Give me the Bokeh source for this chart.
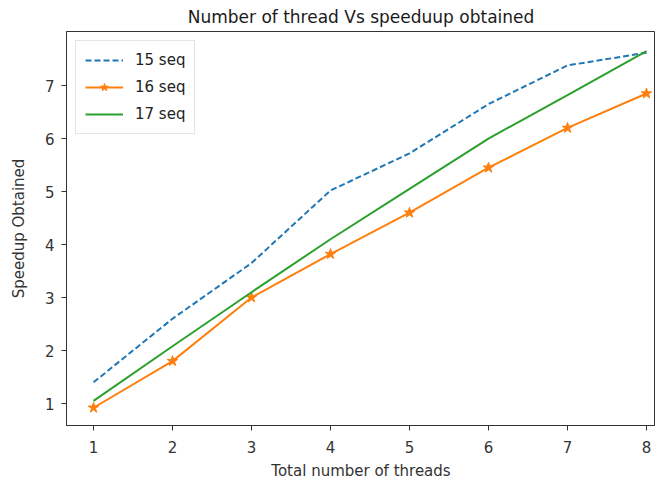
from bokeh.plotting import figure
from bokeh.embed import file_html
from bokeh.resources import INLINE
from bokeh.models import Range1d, FixedTicker, Legend, LegendItem

threads = [1, 2, 3, 4, 5, 6, 7, 8]
seq15 = [1.4, 2.6, 3.65, 5.02, 5.72, 6.65, 7.38, 7.62]
seq16 = [0.92, 1.8, 3.0, 3.82, 4.6, 5.45, 6.2, 6.85]
seq17 = [1.05, 2.08, 3.1, 4.1, 5.05, 6.0, 6.82, 7.65]
x_ticks = [1, 2, 3, 4, 5, 6, 7, 8]
y_ticks = [1, 2, 3, 4, 5, 6, 7]

FONT = "DejaVu Sans"

p = figure(width=655, height=482, output_backend="svg", toolbar_location=None,
           title="Number of thread Vs speeduup obtained",
           x_range=Range1d(0.658, 8.114), y_range=Range1d(0.585, 8.02),
           min_border_left=66, min_border_right=0, min_border_top=0, min_border_bottom=0)

p.title.text_font = FONT
p.title.text_font_size = "17px"
p.title.text_font_style = "normal"
p.title.align = "center"
p.title.text_color = "#1a1a1a"
p.title.standoff = 9

p.xgrid.visible = False
p.ygrid.visible = False
p.outline_line_color = "#333333"
p.outline_line_width = 1

for ax in (p.xaxis, p.yaxis):
    ax.axis_line_color = "#333333"
    ax.major_tick_line_color = "#333333"
    ax.minor_tick_line_color = None
    ax.major_tick_out = 5
    ax.major_tick_in = 0
    ax.major_label_text_font = FONT
    ax.major_label_text_font_size = "15px"
    ax.major_label_text_color = "#333333"
    ax.major_label_standoff = 7
    ax.axis_label_text_font = FONT
    ax.axis_label_text_font_size = "15px"
    ax.axis_label_text_font_style = "normal"
    ax.axis_label_text_color = "#333333"

p.xaxis.ticker = FixedTicker(ticks=x_ticks)
p.yaxis.ticker = FixedTicker(ticks=y_ticks)
p.xaxis.axis_label = "Total number of threads"
p.yaxis.axis_label = "Speedup Obtained"
p.xaxis.major_label_standoff = 10
p.xaxis.axis_label_standoff = 6
p.yaxis.axis_label_standoff = 14

r15 = p.line(threads, seq15, line_color="#1f77b4", line_width=2, line_dash="6 3")
r16 = p.line(threads, seq16, line_color="#ff7f0e", line_width=2)
r16m = p.scatter(threads, seq16, marker="star", size=11, fill_color="#ff7f0e", line_color="#ff7f0e")
r17 = p.line(threads, seq17, line_color="#2ca02c", line_width=2)

legend = Legend(items=[
    LegendItem(label="15 seq", renderers=[r15]),
    LegendItem(label="16 seq", renderers=[r16, r16m]),
    LegendItem(label="17 seq", renderers=[r17]),
], location="top_left")
legend.label_text_font = FONT
legend.label_text_font_size = "15px"
legend.label_text_color = "#222222"
legend.border_line_color = "#cccccc"
legend.border_line_width = 1
legend.background_fill_alpha = 0.9
legend.glyph_width = 38
legend.glyph_height = 20
legend.label_standoff = 12
legend.spacing = 7
legend.padding = 9
legend.margin = 9
p.add_layout(legend)

open("out.html", "w").write(file_html(p, INLINE))
